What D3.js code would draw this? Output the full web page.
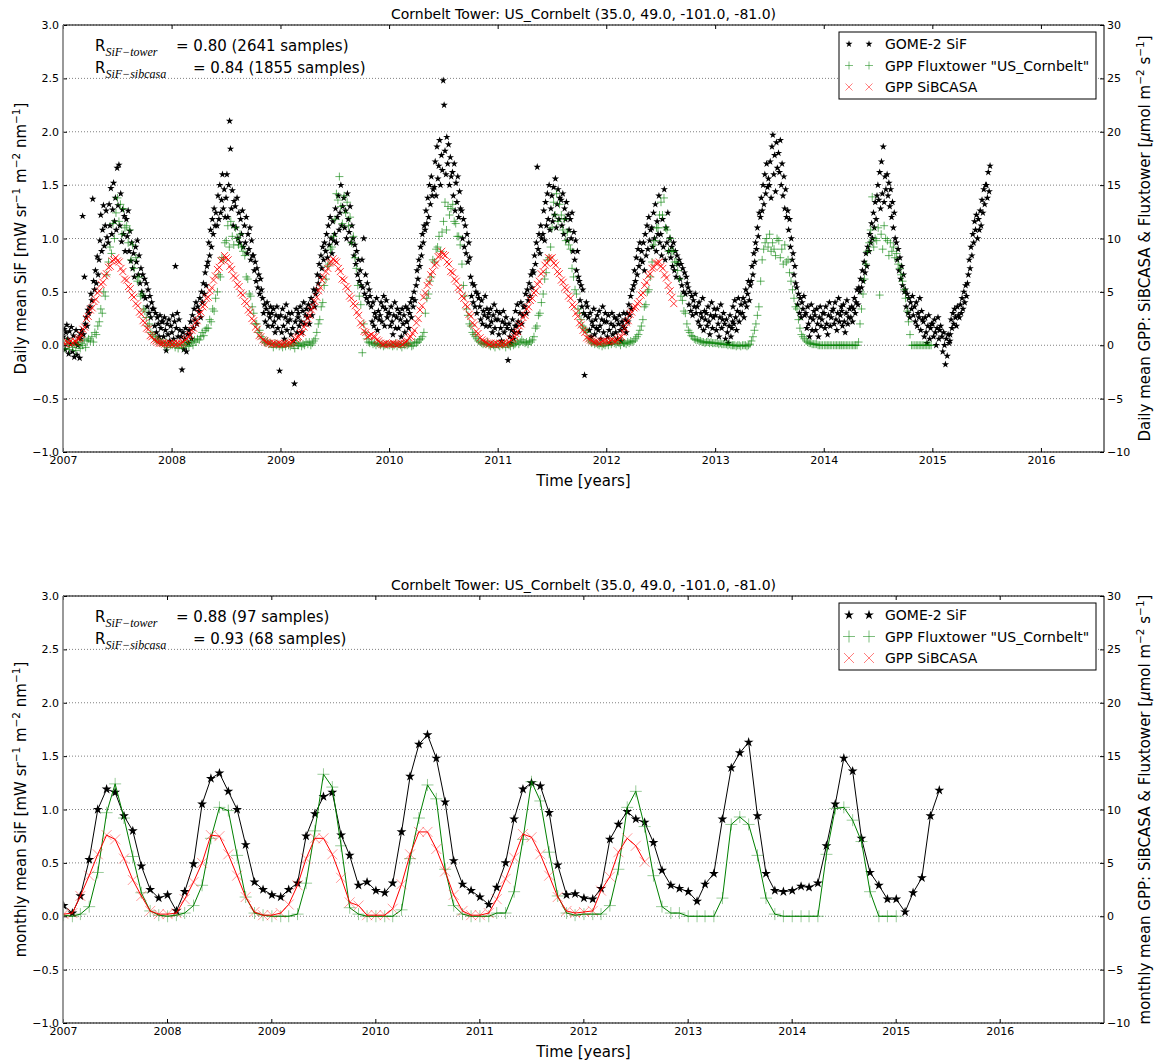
<!DOCTYPE html>
<html>
<head>
<meta charset="utf-8">
<script src="https://cdn.jsdelivr.net/npm/d3@7"></script>
<style>
  body { margin: 0; background: #fff; }
  text { font-family: "DejaVu Sans", sans-serif; }
</style>
</head>
<body>
<svg id="fig" width="1156" height="1064"></svg>
<script>
// ---- daily GOME-2 SiF, 10 samples per month, units of 0.01 mW sr-1 m-2 nm-1
var sifDays = [2, 5, 8, 11, 14, 17, 20, 23, 26, 29];
var sif2007 = [8,15,-4,12,19,6,-8,13,1,17, -6,9,-11,2,14,-9,0,7,-12,11, 6,14,121,10,64,20,26,18,33,30,
  36,48,42,137,60,52,70,58,83,66, 80,98,122,88,108,131,93,112,126,101, 96,132,112,147,104,127,152,116,138,108,
  166,131,169,112,142,97,127,104,121,88, 118,102,126,88,107,79,96,72,86,64, 92,78,98,66,84,58,72,50,66,46,
  62,44,58,36,52,30,46,26,40,34, 34,18,30,12,26,20,8,28,16,22, 22,8,26,14,-5,20,10,24,4,18];
var sif2008 = [12,28,6,22,74,16,30,8,24,14, 8,-23,12,-4,6,16,-6,10,2,14, 10,22,6,28,16,34,24,40,20,36,
  32,44,26,50,40,58,48,68,56,74, 78,96,84,108,92,118,104,128,112,124, 112,140,118,150,124,136,160,128,146,120,
  138,160,120,150,210,184,128,145,112,135, 130,110,138,100,124,96,118,104,126,92, 112,96,120,86,104,90,110,80,98,84,
  84,70,78,60,72,54,66,48,62,52, 44,30,38,22,34,40,18,30,26,36, 30,18,34,22,12,28,36,16,26,-24];
var sif2009 = [28,12,34,18,6,26,38,14,22,30, 24,10,30,16,4,-36,22,34,12,26, 30,18,36,22,12,32,40,20,28,34,
  26,38,20,34,44,28,40,52,36,48, 52,66,58,76,64,84,72,92,80,96, 88,104,82,112,94,120,100,86,116,98,
  104,128,96,120,140,108,124,150,112,130, 138,110,126,100,142,118,106,130,96,112, 100,84,94,76,88,66,80,60,70,56,
  80,54,100,48,66,44,58,40,52,46, 36,22,40,18,30,26,44,14,32,24, 28,40,22,36,46,18,34,42,26,30];
var sif2010 = [30,18,36,22,10,28,40,16,26,34, 16,30,24,8,34,20,28,12,36,22, 22,34,16,30,40,26,44,36,50,42,
  56,70,62,80,74,92,84,104,96,112, 108,126,114,138,120,150,132,158,140,146, 148,172,140,186,156,168,192,150,178,164,
  248,225,182,160,195,170,188,150,176,158, 162,140,170,126,152,134,158,120,144,128, 126,100,118,92,112,86,104,78,96,82,
  64,46,58,40,56,36,50,30,48,44, 36,24,42,20,32,28,46,18,34,26, 30,18,34,22,12,28,38,16,24,32];
var sif2011 = [24,10,30,16,4,22,32,12,20,26, 16,-14,20,8,2,14,24,6,12,18, 32,18,38,22,12,30,40,20,28,36,
  36,48,30,52,42,58,46,66,54,70, 68,84,76,96,167,90,104,86,112,100, 104,126,98,134,112,142,118,150,108,128,
  140,116,148,122,156,110,132,146,118,138, 136,112,142,104,128,118,134,98,122,108, 118,100,124,88,106,80,98,70,88,64,
  60,42,56,36,52,30,-28,28,40,36, 26,14,30,8,22,18,34,10,24,16, 28,14,32,18,6,24,36,12,22,30];
var sif2012 = [22,8,28,14,2,20,30,10,18,26, 12,24,6,20,28,14,4,22,18,30, 16,24,12,30,22,38,28,46,34,52,
  56,70,60,82,66,90,74,96,80,88, 78,96,70,104,84,112,90,120,98,108, 110,92,124,100,132,88,116,104,140,96,
  104,84,118,92,146,80,110,96,124,88, 100,82,92,74,96,70,88,64,84,76, 80,62,76,56,72,50,68,48,64,58,
  54,38,50,32,46,28,42,36,48,30, 36,22,40,18,30,26,44,14,32,24, 30,18,36,22,10,28,40,16,26,34];
var sif2013 = [28,14,34,20,8,26,38,16,24,30, 20,6,24,12,2,18,28,8,16,22, 36,20,42,26,14,32,44,22,30,38,
  30,44,26,40,52,36,48,60,42,56, 60,74,66,86,78,96,90,110,102,124, 120,138,126,150,132,160,142,170,148,156,
  150,172,138,186,197,160,178,144,190,166, 180,162,192,150,170,140,158,128,146,120, 126,108,118,92,100,80,86,66,74,58,
  54,38,48,30,44,26,40,34,46,28, 30,16,36,20,8,26,38,14,24,32, 28,14,34,20,8,26,36,18,24,30];
var sif2014 = [30,16,36,20,10,28,40,18,26,32, 34,20,40,24,14,30,44,22,28,36, 32,18,38,22,12,30,42,20,26,34,
  26,36,22,34,44,30,40,52,38,54, 50,62,54,70,60,78,68,86,74,92, 88,104,96,114,100,124,110,134,118,140,
  150,136,162,128,172,142,186,134,158,146, 160,140,152,130,146,120,134,110,124,100, 96,80,90,70,82,62,74,56,66,50,
  52,36,48,30,44,26,40,34,46,28, 36,22,40,18,30,26,44,14,32,24, 22,8,26,12,2,18,28,6,16,20];
var sif2015 = [20,8,24,12,0,16,26,6,14,18, 8,-6,12,0,-18,6,-10,10,2,4, 10,24,16,30,20,34,26,18,36,28,
  26,38,30,44,34,50,40,56,46,58, 66,80,72,92,84,104,96,116,108,122, 100,118,108,126,112,136,124,146,132,150,
  150,138,162,144,168];

// ---- daily fluxtower GPP, 6 samples per month, units of 0.1 umol m-2 s-1
var gppDays = [3, 8, 13, 18, 23, 28];
var gpp2007 = [2,-3,4,0,-4,3, -2,1,-5,3,0,-3, 2,0,5,-2,4,6, 4,8,3,12,10,18, 22,34,30,50,46,66, 78,92,86,114,100,124,
  138,116,132,104,128,110, 112,96,108,80,94,72, 82,60,64,46,48,34, 32,26,18,20,12,10, 8,6,4,5,2,3, 2,0,3,-2,1,0];
var gpp2008 = [0,2,-2,1,-3,0, 1,-2,3,0,2,-1, 2,4,0,5,3,6, 5,8,12,9,14,16, 16,24,22,34,32,44, 50,66,64,82,80,96,
  98,112,92,116,102,94, 110,100,94,104,92,88, 84,64,62,48,46,36, 30,20,20,12,14,8, 6,3,2,4,1,2, 1,-2,2,0,1,-1];
var gpp2009 = [0,-2,1,-1,2,0, -1,1,0,-3,2,0, 0,2,-1,1,0,3, 1,3,0,2,4,6, 12,20,24,36,40,56, 62,74,76,90,92,102,
  118,142,136,158,130,114, 140,124,134,112,120,96, 102,82,72,56,46,38, -7,20,12,6,3,2, 3,1,2,0,2,1, 0,1,-1,0,1,0];
var gpp2010 = [0,1,-1,0,2,-1, 1,0,-2,1,0,2, 0,1,2,-1,0,3, 2,3,5,6,8,12, 30,44,48,60,64,80, 78,90,92,102,88,106,
  116,134,108,130,122,128, 132,116,114,102,102,94, 76,56,46,34,28,20, 18,12,10,8,6,4, 3,2,1,2,1,3, 0,-1,1,0,-2,1];
var gpp2011 = [0,-1,1,0,2,-2, 1,0,-1,2,0,1, 2,4,1,3,5,3, 2,3,1,4,3,5, 8,16,18,28,30,40, 48,62,68,80,82,92,
  110,134,122,142,116,132, 122,108,118,98,106,94, 90,72,64,52,48,34, 30,24,18,16,14,12, 6,4,2,3,1,2, 1,0,2,-1,1,0];
var gpp2012 = [2,0,3,1,4,2, 1,3,2,0,4,2, 2,1,3,2,4,3, 4,6,8,10,14,18, 24,36,38,50,52,64, 78,94,98,110,110,122,
  134,122,138,110,108,88, 100,88,88,78,78,70, 62,46,42,32,30,20, 14,12,9,8,6,5, 5,4,4,3,3,2, 3,3,2,3,2,2];
var gpp2013 = [2,2,1,2,1,1, 1,1,0,1,0,0, 0,0,-1,0,0,-1, 0,0,0,-1,0,1, 4,8,14,20,28,36, 60,80,90,96,100,92,
  104,88,96,90,84,100, 98,82,90,76,94,78, 80,68,60,52,44,36, 34,24,16,10,8,6, 4,3,2,2,1,1, 1,1,0,0,0,0];
var gpp2014 = [0,0,0,0,0,0, 0,0,0,0,0,0, 0,0,0,0,0,0, 0,0,0,0,0,3, 20,34,48,62,76,88, 96,108,139,92,100,98,
  110,47,104,90,112,100, 98,84,96,88,92,82, 86,76,72,66,60,52, 44,32,22,10,0,0, 0,0,0,0,0,0, 0,0,0,0,0,0];

// ---- daily SiBCASA GPP, 5 samples per month, units of 0.1 umol m-2 s-1
var sibDays = [3, 9, 15, 21, 27];
var sib2007 = [2,1,3,2,4, 2,4,3,6,7, 10,15,17,25,27, 33,35,41,43,49, 51,57,59,65,67, 73,74,79,80,82,
  79,78,72,69,62, 61,55,53,47,45, 39,37,31,29,23, 21,16,15,9,8, 5,4,3,2,2, 2,1,2,1,2];
var sib2008 = [1,2,1,2,1, 2,3,5,6,8, 10,14,16,21,23, 29,31,36,38,44, 45,51,54,61,65, 71,73,79,80,84,
  82,80,74,71,65, 63,57,55,49,47, 41,39,33,31,25, 23,17,15,9,8, 5,4,3,2,2, 1,2,1,1,2];
var sib2009 = [1,1,2,1,2, 2,3,4,6,7, 8,11,12,17,20, 25,28,33,36,41, 45,51,54,61,64, 69,72,77,78,81,
  79,78,72,69,62, 61,55,53,46,44, 39,37,31,28,21, 19,13,12,8,9, 10,8,8,5,4, 2,1,1,2,1];
var sib2010 = [1,1,2,1,1, 1,2,1,2,3, 4,7,8,11,14, 21,25,33,37,45, 49,56,59,66,69, 75,77,83,84,88,
  85,84,78,76,69, 68,62,60,54,52, 46,44,38,36,29, 27,21,19,13,11, 7,5,4,3,2, 1,2,1,1,2];
var sib2011 = [1,2,1,2,1, 2,3,5,6,8, 11,13,18,20,26, 28,34,36,42,44, 49,51,57,60,67, 69,75,77,82,81,
  82,77,75,69,67, 61,59,54,52,46, 44,38,36,30,27, 21,19,14,12,7, 6,5,4,3,3, 3,2,3,4,4];
var sib2012 = [4,3,4,5,4, 4,5,7,8,12, 16,21,23,29,31, 35,36,39,41,47, 49,56,59,65,67, 72,73,77,77,78,
  74,72,66,63,56, 51,45,39];

// ---- monthly means, starting January 2007
var monthlySif = [0.10,0.03,0.19,0.53,1.00,1.19,1.16,0.94,0.80,0.47,0.25,0.17,
  0.20,0.05,0.23,0.49,1.05,1.29,1.34,1.17,1.00,0.67,0.32,0.25,
  0.20,0.18,0.25,0.31,0.75,0.96,1.12,1.16,0.76,0.57,0.29,0.32,
  0.24,0.22,0.31,0.79,1.31,1.61,1.70,1.48,1.07,0.52,0.30,0.24,
  0.18,0.11,0.27,0.50,0.91,1.19,1.25,1.22,0.97,0.48,0.20,0.21,
  0.17,0.16,0.26,0.72,0.86,0.98,0.91,0.88,0.69,0.43,0.29,0.26,
  0.23,0.14,0.30,0.40,0.91,1.39,1.53,1.63,0.94,0.40,0.24,0.23,
  0.24,0.28,0.27,0.31,0.66,1.05,1.48,1.36,0.73,0.41,0.29,0.16,
  0.16,0.04,0.22,0.36,0.94,1.18];
var monthlyGpp = [0.1,0,0.2,0.9,4.1,9.7,12.4,9.2,5.6,2.2,0.5,0.1,
  0,0.1,0.3,1.0,2.9,7.3,10.2,9.9,5.7,1.8,0.3,0.1,
  0,0,0,0.2,3.1,8.0,13.3,12.1,6.6,0.8,0.2,0,
  0,0,0,0.6,5.4,9.2,12.3,11.0,4.4,1.0,0.2,0,
  0,0,0.3,0.3,2.3,7.2,12.6,10.8,6.0,1.9,0.3,0.1,
  0.2,0.2,0.2,1.0,4.4,10.2,11.7,8.4,3.8,0.9,0.3,0.3,
  0,0,0,0,1.7,8.6,9.3,8.6,5.7,1.7,0.2,0,
  0,0,0,0,5.8,10.1,10.2,9.0,7.0,2.3,0,0,
  0];
var monthlySib = [0.2,0.3,1.9,3.8,5.8,7.6,7.2,5.4,3.4,1.9,0.5,0.2,
  0.2,0.3,1.6,3.2,5.0,7.6,7.5,5.8,3.8,1.8,0.4,0.1,
  0.1,0.3,1.1,2.9,5.4,7.3,7.3,5.8,3.6,1.3,1.0,0.1,
  0.1,0.1,0.7,3.0,5.8,7.9,7.9,6.3,4.2,2.0,0.5,0.1,
  0.1,0.3,1.6,3.5,5.5,7.7,7.4,5.8,3.8,1.8,0.5,0.3,
  0.4,0.5,2.4,3.7,6.0,7.3,6.6,5.1];

var tickYears = [2007, 2008, 2009, 2010, 2011, 2012, 2013, 2014, 2015, 2016];
var sifTicks = [-1.0, -0.5, 0.0, 0.5, 1.0, 1.5, 2.0, 2.5, 3.0];
var gppTicks = [-10, -5, 0, 5, 10, 15, 20, 25, 30];
var legendLabels = ["GOME-2 SiF", "GPP Fluxtower \"US_Cornbelt\"", "GPP SiBCASA"];
var titleText = "Cornbelt Tower: US_Cornbelt (35.0, 49.0, -101.0, -81.0)";

function daily(arrays, firstYear, days, unit) {
    var out = [];
    arrays.forEach(function (arr, k) {
        arr.forEach(function (v, i) {
            var m = Math.floor(i / days.length);
            out.push({ date: new Date(Date.UTC(firstYear + k, m, days[i % days.length])), v: v * unit });
        });
    });
    return out;
}
function monthly(arr) {
    return arr.map(function (v, i) { return { date: new Date(Date.UTC(2007, i, 3)), v: v }; });
}

var sifDaily = daily([sif2007, sif2008, sif2009, sif2010, sif2011, sif2012, sif2013, sif2014, sif2015], 2007, sifDays, 0.01);
var gppDaily = daily([gpp2007, gpp2008, gpp2009, gpp2010, gpp2011, gpp2012, gpp2013, gpp2014], 2007, gppDays, 0.1);
var sibDaily = daily([sib2007, sib2008, sib2009, sib2010, sib2011, sib2012], 2007, sibDays, 0.1);

var svg = d3.select("#fig");
var X0 = 63, X1 = 1104;

function plusPath(a) { return "M" + (-a) + ",0H" + a + "M0," + (-a) + "V" + a; }
function crossPath(a) { return "M" + (-a) + "," + (-a) + "L" + a + "," + a + "M" + (-a) + "," + a + "L" + a + "," + (-a); }

// text with super/subscripts: parts = [[string, kind]]
function rich(sel, parts, size) {
    var shift = 0;
    parts.forEach(function (p) {
        var t = sel.append("tspan").text(p[0]);
        var want = 0;
        if (p[1] === "sup") { want = -size * 0.42; t.attr("font-size", size * 0.7); }
        if (p[1] === "sub") { want = size * 0.3; t.attr("font-size", size * 0.8)
            .attr("font-family", "Liberation Serif").attr("font-style", "italic"); }
        if (p[1] === "mu") { t.attr("font-style", "italic"); }
        if (p.length > 2) t.attr("x", p[2]);
        t.attr("dy", want - shift);
        shift = want;
    });
}

function drawPanel(o) {
    var g = svg.append("g");
    var x = d3.scaleUtc().domain([new Date(Date.UTC(2007, 0, 1)), o.xEnd]).range([X0, X1]);
    var y = d3.scaleLinear().domain([-1, 3]).range([o.bottom, o.top]);
    var yR = d3.scaleLinear().domain([-10, 30]).range([o.bottom, o.top]);
    var years = tickYears.map(function (yr) { return new Date(Date.UTC(yr, 0, 1)); });

    // grid
    g.selectAll("line.grid").data(sifTicks).enter().append("line")
        .attr("x1", X0).attr("x2", X1)
        .attr("y1", function (d) { return y(d); }).attr("y2", function (d) { return y(d); })
        .attr("stroke", "#808080").attr("stroke-width", 1).attr("stroke-dasharray", "1,2");

    var clipId = "clip" + o.top;
    svg.append("clipPath").attr("id", clipId).append("rect")
        .attr("x", X0).attr("y", o.top).attr("width", X1 - X0).attr("height", o.bottom - o.top);
    var plot = g.append("g").attr("clip-path", "url(#" + clipId + ")");

    if (o.mode === "daily") {
        var star = d3.symbol(d3.symbolStar, 17)();
        plot.selectAll("path.sif").data(sifDaily).enter().append("path")
            .attr("d", star).attr("fill", "black")
            .attr("transform", function (d) { return "translate(" + x(d.date) + "," + y(d.v) + ")"; });
        plot.selectAll("path.gpp").data(gppDaily).enter().append("path")
            .attr("d", plusPath(4)).attr("fill", "none").attr("stroke", "#008000").attr("stroke-opacity", 0.6)
            .attr("transform", function (d) { return "translate(" + x(d.date) + "," + yR(d.v) + ")"; });
        plot.selectAll("path.sib").data(sibDaily).enter().append("path")
            .attr("d", crossPath(3.5)).attr("fill", "none").attr("stroke", "red").attr("stroke-opacity", 0.8)
            .attr("transform", function (d) { return "translate(" + x(d.date) + "," + yR(d.v) + ")"; });
    } else {
        var mSif = monthly(monthlySif), mGpp = monthly(monthlyGpp), mSib = monthly(monthlySib);
        var bigStar = d3.symbol(d3.symbolStar, 30)();
        plot.append("path").datum(mSif).attr("fill", "none").attr("stroke", "black")
            .attr("d", d3.line().x(function (d) { return x(d.date); }).y(function (d) { return y(d.v); }));
        plot.selectAll("path.msif").data(mSif).enter().append("path")
            .attr("d", bigStar).attr("fill", "black")
            .attr("transform", function (d) { return "translate(" + x(d.date) + "," + y(d.v) + ")"; });
        var lineR = d3.line().x(function (d) { return x(d.date); }).y(function (d) { return yR(d.v); });
        plot.append("path").datum(mGpp).attr("fill", "none").attr("stroke", "#008000").attr("d", lineR);
        plot.selectAll("path.mgpp").data(mGpp).enter().append("path")
            .attr("d", plusPath(6)).attr("fill", "none").attr("stroke", "#008000").attr("stroke-opacity", 0.4)
            .attr("transform", function (d) { return "translate(" + x(d.date) + "," + yR(d.v) + ")"; });
        plot.append("path").datum(mSib).attr("fill", "none").attr("stroke", "red").attr("d", lineR);
        plot.selectAll("path.msib").data(mSib).enter().append("path")
            .attr("d", crossPath(5)).attr("fill", "none").attr("stroke", "red").attr("stroke-opacity", 0.4)
            .attr("transform", function (d) { return "translate(" + x(d.date) + "," + yR(d.v) + ")"; });
    }

    // axes
    function style(a) {
        a.attr("font-size", 11).attr("font-family", "DejaVu Sans");
        a.select(".domain").remove();
        a.selectAll(".tick line").attr("stroke", "black");
    }
    g.append("g").attr("transform", "translate(0," + o.bottom + ")")
        .call(d3.axisBottom(x).tickValues(years).tickFormat(d3.utcFormat("%Y")).tickSizeInner(-4).tickSizeOuter(0).tickPadding(4))
        .call(style);
    g.append("g").attr("transform", "translate(0," + o.top + ")")
        .call(d3.axisTop(x).tickValues(years).tickFormat("").tickSizeInner(-4).tickSizeOuter(0))
        .call(style);
    g.append("g").attr("transform", "translate(" + X0 + ",0)")
        .call(d3.axisLeft(y).tickValues(sifTicks).tickFormat(d3.format(".1f")).tickSizeInner(-4).tickSizeOuter(0).tickPadding(4))
        .call(style);
    g.append("g").attr("transform", "translate(" + X1 + ",0)")
        .call(d3.axisRight(yR).tickValues(gppTicks).tickFormat(d3.format("d")).tickSizeInner(-4).tickSizeOuter(0).tickPadding(3))
        .call(style);

    // spines
    g.append("path").attr("d", "M" + X0 + "," + o.bottom + "H" + X1 + "V" + o.top + "H" + X0)
        .attr("fill", "none").attr("stroke", "black").attr("stroke-width", 1);
    g.append("line").attr("x1", X0).attr("x2", X0).attr("y1", o.top).attr("y2", o.bottom)
        .attr("stroke", "#808080").attr("stroke-width", 1.6);

    // titles and labels
    var cx = (X0 + X1) / 2, cy = (o.top + o.bottom) / 2;
    g.append("text").attr("x", cx).attr("y", o.top - 6).attr("text-anchor", "middle")
        .attr("font-size", 14).text(titleText);
    g.append("text").attr("x", cx).attr("y", o.bottom + 34).attr("text-anchor", "middle")
        .attr("font-size", 15).text("Time [years]");
    var yl = g.append("text").attr("transform", "translate(26," + cy + ") rotate(-90)")
        .attr("text-anchor", "middle").attr("font-size", 15);
    rich(yl, [[o.prefix + " mean SiF [mW sr", ""], ["\u22121", "sup"], [" m", ""], ["\u22122", "sup"],
        [" nm", ""], ["\u22121", "sup"], ["]", ""]], 15);
    var yr = g.append("text").attr("transform", "translate(1150," + cy + ") rotate(-90)")
        .attr("text-anchor", "middle").attr("font-size", 15);
    rich(yr, [[o.prefix + " mean GPP: SiBCASA & Fluxtower [", ""], ["\u03bc", "mu"], ["mol m", ""], ["\u22122", "sup"],
        [" s", ""], ["\u22121", "sup"], ["]", ""]], 15);

    o.stats.forEach(function (s, i) {
        var t = g.append("text").attr("x", 95).attr("y", o.top + 26 + i * 22).attr("font-size", 15);
        rich(t, [["R", ""], [s[0], "sub"], ["= " + s[1], "", s[2]]], 15);
    });

    // legend
    var lg = g.append("g").attr("transform", "translate(839," + (o.top + 7) + ")");
    lg.append("rect").attr("width", 257).attr("height", 67).attr("fill", "white").attr("stroke", "black");
    var mk = o.mode === "daily"
        ? [d3.symbol(d3.symbolStar, 15)(), plusPath(4), crossPath(3.5)]
        : [d3.symbol(d3.symbolStar, 30)(), plusPath(6), crossPath(5)];
    legendLabels.forEach(function (lab, i) {
        var ry = 12 + i * 21.5;
        [10, 30].forEach(function (mx) {
            var p = lg.append("path").attr("d", mk[i]).attr("transform", "translate(" + mx + "," + ry + ")");
            if (i === 0) p.attr("fill", "black");
            else p.attr("fill", "none").attr("stroke", i === 1 ? "#008000" : "red").attr("stroke-opacity", 0.5);
        });
        lg.append("text").attr("x", 46).attr("y", ry + 5).attr("font-size", 14).text(lab);
    });
}

drawPanel({ top: 25, bottom: 452, xEnd: new Date(Date.UTC(2016, 6, 31)), mode: "daily", prefix: "Daily",
    stats: [["SiF\u2212tower", "0.80 (2641 samples)", 176], ["SiF\u2212sibcasa", "0.84 (1855 samples)", 193]] });
drawPanel({ top: 596, bottom: 1023, xEnd: new Date(Date.UTC(2017, 0, 1)), mode: "monthly", prefix: "monthly",
    stats: [["SiF\u2212tower", "0.88 (97 samples)", 176], ["SiF\u2212sibcasa", "0.93 (68 samples)", 193]] });
</script>
</body>
</html>
